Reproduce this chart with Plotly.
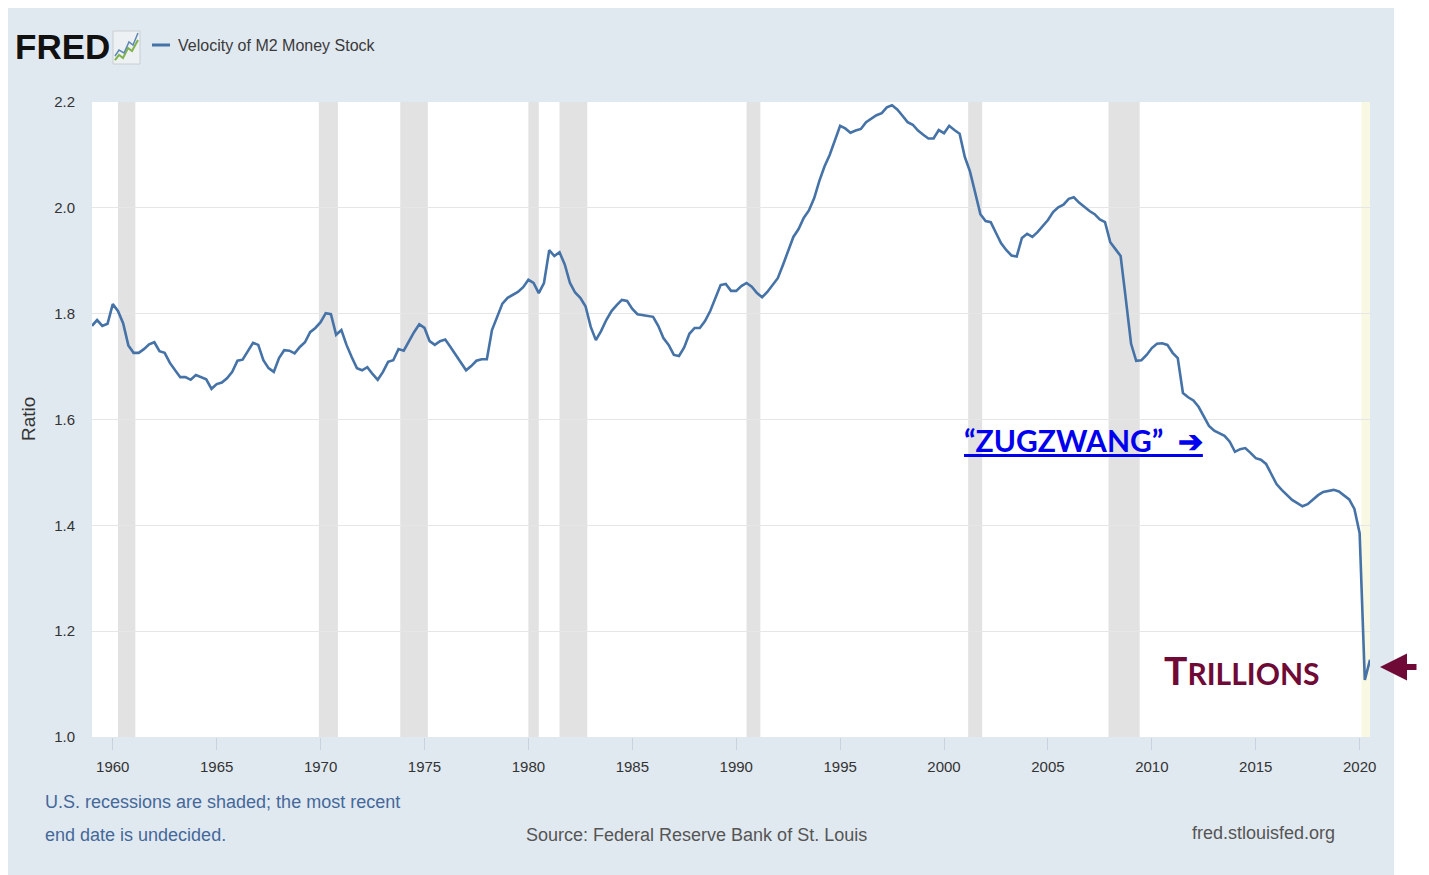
import pandas as pd
import plotly.graph_objects as go

# ---------------- data ----------------
start_date = "1959-01-01"
velocity = [
    1.777, 1.788, 1.777, 1.781, 1.818, 1.805, 1.782, 1.740, 1.726, 1.726,
    1.733, 1.742, 1.746, 1.729, 1.726, 1.707, 1.693, 1.680, 1.680, 1.675,
    1.684, 1.680, 1.676, 1.658, 1.667, 1.670, 1.678, 1.690, 1.711, 1.713,
    1.729, 1.745, 1.741, 1.712, 1.697, 1.690, 1.716, 1.731, 1.730, 1.725,
    1.737, 1.746, 1.765, 1.773, 1.784, 1.801, 1.799, 1.760, 1.769, 1.741,
    1.718, 1.697, 1.693, 1.699, 1.686, 1.675, 1.690, 1.709, 1.712, 1.733,
    1.730, 1.748, 1.765, 1.780, 1.773, 1.748, 1.741, 1.748, 1.751, 1.737,
    1.722, 1.707, 1.693, 1.701, 1.711, 1.714, 1.714, 1.769, 1.794, 1.819,
    1.830, 1.835, 1.841, 1.850, 1.864, 1.858, 1.839, 1.858, 1.920, 1.909,
    1.916, 1.893, 1.858, 1.840, 1.830, 1.814, 1.775, 1.750, 1.767, 1.788,
    1.805, 1.816, 1.826, 1.824, 1.809, 1.799, 1.797, 1.796, 1.794, 1.777,
    1.754, 1.741, 1.722, 1.720, 1.736, 1.762, 1.773, 1.773, 1.786, 1.805,
    1.830, 1.854, 1.856, 1.843, 1.843, 1.852, 1.858, 1.851, 1.839, 1.831,
    1.841, 1.854, 1.867, 1.892, 1.918, 1.945, 1.960, 1.981, 1.995, 2.018,
    2.051, 2.078, 2.100, 2.126, 2.155, 2.150, 2.142, 2.146, 2.149, 2.162,
    2.169, 2.175, 2.179, 2.190, 2.194, 2.186, 2.174, 2.162, 2.157, 2.146,
    2.138, 2.131, 2.131, 2.147, 2.141, 2.155, 2.147, 2.140, 2.096, 2.069,
    2.029, 1.988, 1.975, 1.973, 1.953, 1.933, 1.920, 1.910, 1.908, 1.943,
    1.951, 1.945, 1.954, 1.965, 1.977, 1.992, 2.001, 2.006, 2.017, 2.020,
    2.010, 2.002, 1.994, 1.988, 1.978, 1.973, 1.935, 1.922, 1.909, 1.827,
    1.743, 1.711, 1.712, 1.722, 1.735, 1.743, 1.744, 1.741, 1.726, 1.716,
    1.650, 1.642, 1.636, 1.624, 1.607, 1.588, 1.579, 1.574, 1.569, 1.558,
    1.539, 1.544, 1.546, 1.537, 1.527, 1.524, 1.516, 1.497, 1.478, 1.467,
    1.457, 1.448, 1.442, 1.436, 1.440, 1.448, 1.457, 1.463, 1.465, 1.467,
    1.464, 1.457, 1.449, 1.431, 1.385, 1.108, 1.146,
]
dates = pd.date_range(start=start_date, periods=len(velocity), freq="QS")

recession_start = ["1960-04-01", "1969-12-01", "1973-11-01", "1980-01-01",
                   "1981-07-01", "1990-07-01", "2001-03-01", "2007-12-01"]
recession_end = ["1961-02-01", "1970-11-01", "1975-03-01", "1980-07-01",
                 "1982-11-01", "1991-03-01", "2001-11-01", "2009-06-01"]
open_recession_start = "2020-02-01"

x_range = ["1959-01-01", "2020-07-01"]
y_ticks = [1.0, 1.2, 1.4, 1.6, 1.8, 2.0, 2.2]
y_ticklabels = ["1.0", "1.2", "1.4", "1.6", "1.8", "2.0", "2.2"]

series_name = "Velocity of M2 Money Stock"

# ---------------- layout geometry ----------------
# the page body has an 8px margin, so the figure is drawn 8px smaller and
# all page-pixel positions below are shifted by OFF
OFF = 8
PAGE_W, PAGE_H = 1429, 875
W, H = PAGE_W - OFF, PAGE_H - OFF
PLOT_L, PLOT_R, PLOT_T, PLOT_B = 92, 1370, 102, 737   # page pixels
L, T = PLOT_L - OFF, PLOT_T - OFF
R, B = W - (PLOT_R - OFF), H - (PLOT_B - OFF)
PW, PH = PLOT_R - PLOT_L, PLOT_B - PLOT_T


def px(xp):
    return (xp - PLOT_L) / PW


def py(yp):
    return (PLOT_B - yp) / PH


FONT = "Liberation Sans, Arial, sans-serif"
PANEL = "#e1e9f0"
LINE = "#4572a7"
MAROON = "#6e0a35"

fig = go.Figure()
fig.add_trace(go.Scatter(x=dates, y=velocity, mode="lines", name=series_name,
                         line=dict(color=LINE, width=2.6), showlegend=False))

shapes = []
for s, e in zip(recession_start, recession_end):
    shapes.append(dict(type="rect", xref="x", yref="paper", x0=s, x1=e, y0=0, y1=1,
                       fillcolor="#e2e2e2", line=dict(width=0), layer="between"))
shapes.append(dict(type="rect", xref="x", yref="paper", x0=open_recession_start, x1=x_range[1],
                   y0=0, y1=1, fillcolor="#f9f9e3", line=dict(width=0), layer="between"))

# white margin to the right of the FRED panel
shapes.append(dict(type="rect", xref="paper", yref="paper",
                   x0=px(1394), x1=px(1445), y0=py(890), y1=py(-10),
                   fillcolor="white", line=dict(width=0), layer="below"))

# FRED logo icon
shapes.append(dict(type="rect", xref="paper", yref="paper", x0=px(113), x1=px(140),
                   y0=py(64), y1=py(31), fillcolor="#eef1f3", line=dict(color="#c9ced3", width=1)))


def path(points):
    return "M " + " L ".join(f"{px(a):.5f},{py(b):.5f}" for a, b in points)


shapes.append(dict(type="path", xref="paper", yref="paper",
                   path=path([(115, 60), (119, 55), (123, 58), (128, 48), (132, 51), (138, 40)]),
                   line=dict(color="#7fb24a", width=2)))
shapes.append(dict(type="path", xref="paper", yref="paper",
                   path=path([(115, 56), (119, 50), (124, 53), (129, 42), (133, 45), (138, 33)]),
                   line=dict(color="#5d87b5", width=1.5)))
# legend line
shapes.append(dict(type="line", xref="paper", yref="paper", x0=px(152), x1=px(170),
                   y0=py(45), y1=py(45), line=dict(color=LINE, width=3)))

annotations = [
    dict(text="<b>FRED</b>", x=px(13), y=py(47), xanchor="left", yanchor="middle",
         font=dict(family=FONT, size=35, color="#111111")),
    dict(text=series_name, x=px(176), y=py(45), xanchor="left", yanchor="middle",
         font=dict(family=FONT, size=16, color="#3a3a3a")),
    dict(text="Ratio", x=px(28), y=py(419), xanchor="center", yanchor="middle", textangle=-90,
         font=dict(family=FONT, size=19, color="#333333")),
    dict(text="U.S. recessions are shaded; the most recent", x=px(43), y=py(802),
         xanchor="left", yanchor="middle", font=dict(family=FONT, size=18, color="#44689a")),
    dict(text="end date is undecided.", x=px(43), y=py(835),
         xanchor="left", yanchor="middle", font=dict(family=FONT, size=18, color="#44689a")),
    dict(text="Source: Federal Reserve Bank of St. Louis", x=px(696), y=py(835),
         xanchor="center", yanchor="middle", font=dict(family=FONT, size=18, color="#555555")),
    dict(text="fred.stlouisfed.org", x=px(1337), y=py(833),
         xanchor="right", yanchor="middle", font=dict(family=FONT, size=18, color="#555555")),
    dict(text="<b><u>\u201cZUGZWANG\u201d  \u2794</u></b>", x=px(962), y=py(440),
         xanchor="left", yanchor="middle",
         font=dict(family="Lato, Open Sans, sans-serif", size=30, color="#0000ee")),
    dict(text="<b><span style='font-size:39px'>T</span>RILLIONS</b>", x=px(1162), y=py(670),
         xanchor="left", yanchor="middle",
         font=dict(family="Lato, Open Sans, sans-serif", size=30, color=MAROON)),
    dict(text="", x=px(1380), y=py(667), ax=38, ay=0, showarrow=True, arrowhead=2,
         arrowsize=0.9, arrowwidth=6, arrowcolor=MAROON, standoff=0),
]
for a in annotations:
    a.setdefault("xref", "paper")
    a.setdefault("yref", "paper")
    a.setdefault("showarrow", False)

fig.update_layout(
    width=W, height=H,
    margin=dict(l=L, r=R, t=T, b=B, pad=0),
    paper_bgcolor=PANEL, plot_bgcolor="white",
    shapes=shapes, annotations=annotations, showlegend=False,
    xaxis=dict(type="date", range=x_range, tick0="1960-01-01", dtick="M60", tickformat="%Y",
               showgrid=False, zeroline=False, showline=False,
               ticks="outside", ticklen=12, tickcolor="#c8d2de", tickwidth=1,
               ticklabelstandoff=4,
               tickfont=dict(family=FONT, size=15, color="#333333")),
    yaxis=dict(range=[1.0, 2.2], tickvals=y_ticks, ticktext=y_ticklabels,
               showgrid=True, gridcolor="#e6e6e6", gridwidth=1, zeroline=False, showline=False,
               ticks="", ticklabelstandoff=16,
               tickfont=dict(family=FONT, size=15, color="#333333")),
)

fig.write_html("out.html")
